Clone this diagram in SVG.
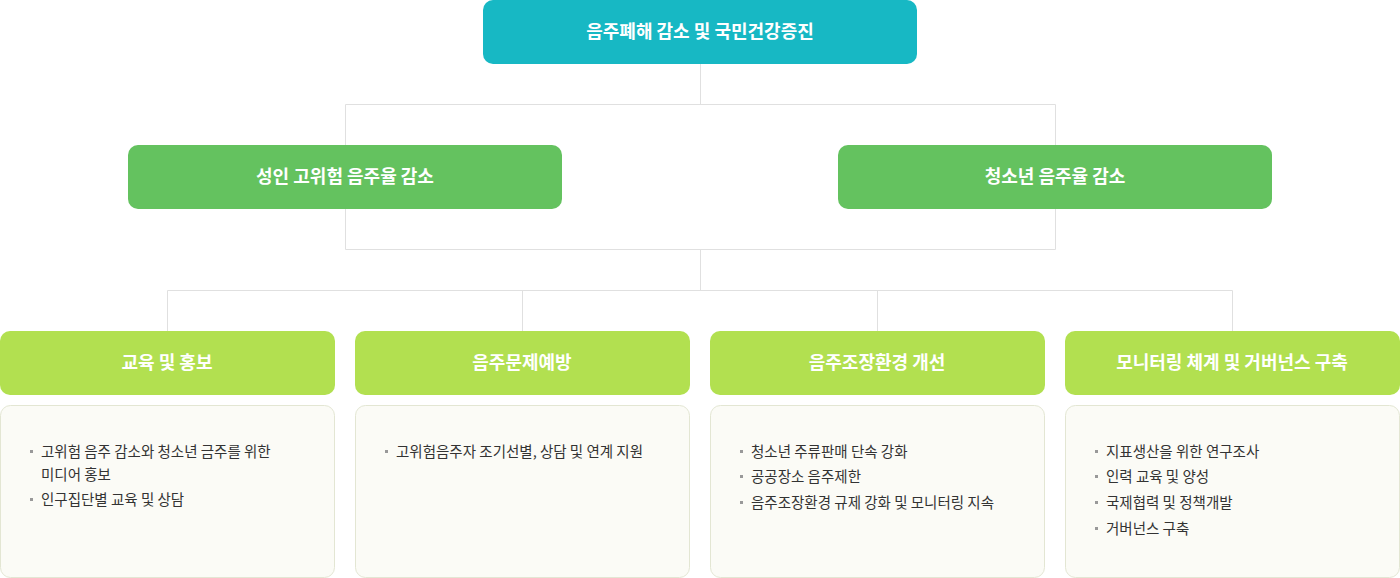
<svg xmlns="http://www.w3.org/2000/svg" width="1400" height="578" viewBox="0 0 1400 578">
<style>
text{font-family:"Noto Sans CJK KR","Noto Sans",sans-serif}
.h{fill:#fff;font-size:18px;font-weight:bold;text-anchor:middle}
.t{fill:#333;font-size:14.5px}
.b{fill:#999}
.c{fill:#fbfbf6;stroke:#e3e6d3;stroke-width:1}
.ln{fill:none;stroke:#e0e0e0;stroke-width:1}
</style>
<g id="connectors">
<path class="ln" d="M700.5 64V104.5M345.5 104.5H1055.5V249.5H345.5ZM700.5 249.5V290.5M167.5 331V290.5H1232.5V331M522.5 290.5V331M877.5 290.5V331"/>
</g>
<g id="root"><rect x="483" y="0" width="434" height="64" rx="10" fill="#17b8c4"/><text class="h" x="700" y="38">음주폐해 감소 및 국민건강증진</text></g>
<g id="adult"><rect x="128" y="145" width="434" height="64" rx="10" fill="#64c25f"/><text class="h" x="345" y="183">성인 고위험 음주율 감소</text></g>
<g id="youth"><rect x="838" y="145" width="434" height="64" rx="10" fill="#64c25f"/><text class="h" x="1055" y="183">청소년 음주율 감소</text></g>
<g id="n1"><rect x="0" y="331" width="335" height="64" rx="10" fill="#b2e050"/><text class="h" x="167" y="369">교육 및 홍보</text>
<rect class="c" x="0.5" y="405.5" width="334" height="172" rx="10"/>
<rect class="b" x="30" y="450" width="3" height="3"/><text class="t" x="41" y="457">고위험 음주 감소와 청소년 금주를 위한</text><text class="t" x="41" y="480">미디어 홍보</text>
<rect class="b" x="30" y="498" width="3" height="3"/><text class="t" x="41" y="505">인구집단별 교육 및 상담</text></g>
<g id="n2"><rect x="355" y="331" width="335" height="64" rx="10" fill="#b2e050"/><text class="h" x="522" y="369">음주문제예방</text>
<rect class="c" x="355.5" y="405.5" width="334" height="172" rx="10"/>
<rect class="b" x="385" y="450" width="3" height="3"/><text class="t" x="396" y="457">고위험음주자 조기선별, 상담 및 연계 지원</text></g>
<g id="n3"><rect x="710" y="331" width="335" height="64" rx="10" fill="#b2e050"/><text class="h" x="877" y="369">음주조장환경 개선</text>
<rect class="c" x="710.5" y="405.5" width="334" height="172" rx="10"/>
<rect class="b" x="740" y="450" width="3" height="3"/><text class="t" x="751" y="457">청소년 주류판매 단속 강화</text>
<rect class="b" x="740" y="475" width="3" height="3"/><text class="t" x="751" y="482">공공장소 음주제한</text>
<rect class="b" x="740" y="501" width="3" height="3"/><text class="t" x="751" y="508">음주조장환경 규제 강화 및 모니터링 지속</text></g>
<g id="n4"><rect x="1065" y="331" width="335" height="64" rx="10" fill="#b2e050"/><text class="h" x="1232" y="369">모니터링 체계 및 거버넌스 구축</text>
<rect class="c" x="1065.5" y="405.5" width="334" height="172" rx="10"/>
<rect class="b" x="1095" y="450" width="3" height="3"/><text class="t" x="1106" y="457">지표생산을 위한 연구조사</text>
<rect class="b" x="1095" y="475" width="3" height="3"/><text class="t" x="1106" y="482">인력 교육 및 양성</text>
<rect class="b" x="1095" y="501" width="3" height="3"/><text class="t" x="1106" y="508">국제협력 및 정책개발</text>
<rect class="b" x="1095" y="527" width="3" height="3"/><text class="t" x="1106" y="534">거버넌스 구축</text></g>
</svg>
